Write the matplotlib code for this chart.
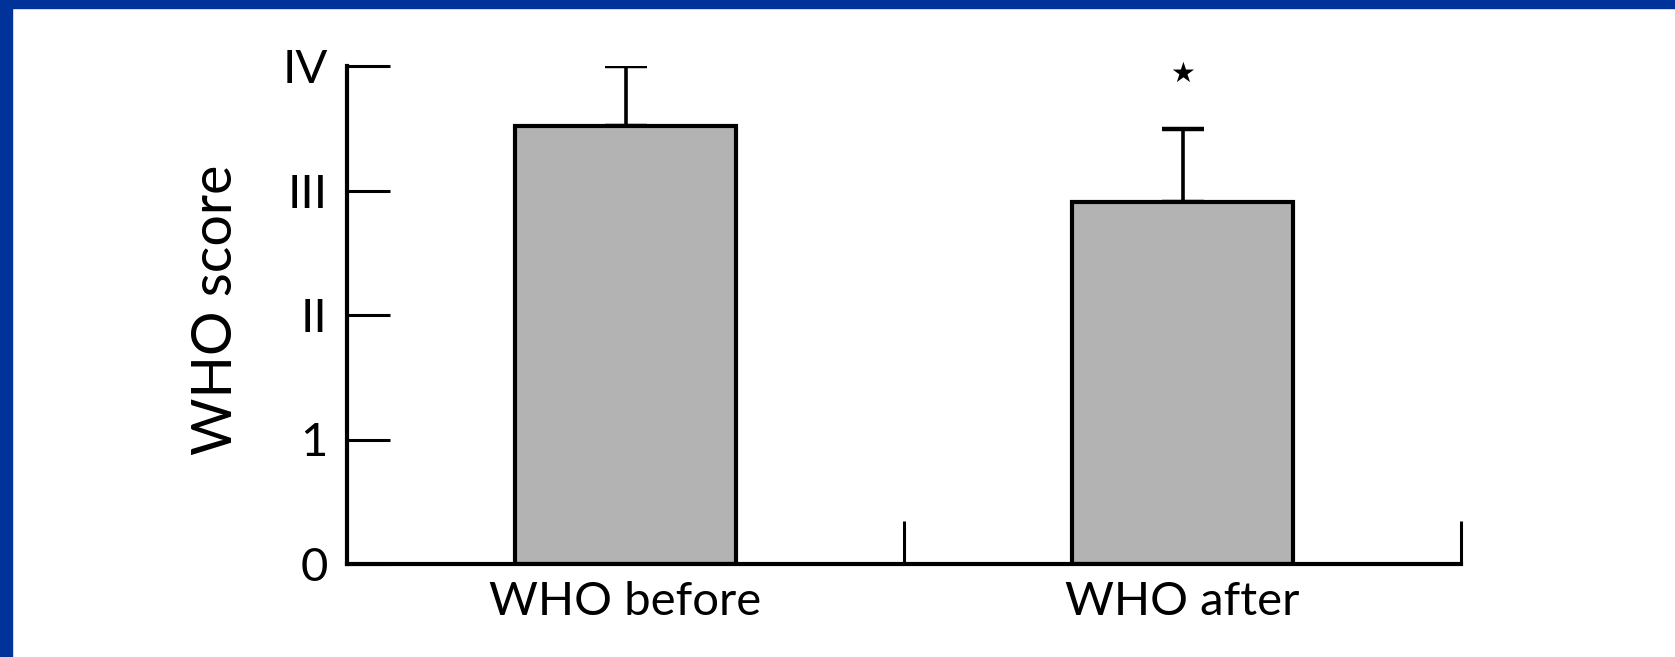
import matplotlib
matplotlib.use("Agg")
import matplotlib.pyplot as plt
from matplotlib.patches import Rectangle

# WHO functional class before and after treatment
categories = ["WHO before", "WHO after"]
means = [3.52, 2.91]
errors = [0.48, 0.58]
tick_values = [0, 1, 2, 3, 4]
tick_labels = ["0", "1", "II", "III", "IV"]
significance = ["", "\u2605"]

plt.rcParams["font.family"] = ["Lato", "DejaVu Sans"]

fig = plt.figure(figsize=(16.75, 6.57), dpi=100)
fig.patch.set_facecolor("white")

# blue frame along the left and top edges
border = "#003399"
fig.patches.append(Rectangle((0, 0), 12 / 1675, 1, transform=fig.transFigure,
                             color=border, zorder=0))
fig.patches.append(Rectangle((0, 1 - 8 / 657), 1, 8 / 657, transform=fig.transFigure,
                             color=border, zorder=0))

ax = fig.add_axes([347 / 1675, 1 - 564 / 657, 1114 / 1675, 498 / 657])

positions = [i + 0.5 for i in range(len(categories))]
ax.bar(positions, means, width=0.395, color="#b3b3b3", edgecolor="black",
       linewidth=3, zorder=2)
ax.errorbar(positions, means, yerr=[[0] * len(errors), errors], fmt="none",
            ecolor="black", elinewidth=2.6, capsize=15, capthick=3.2, zorder=1)

for x, m, e, s in zip(positions, means, errors, significance):
    if s:
        ax.text(x, 3.94, s, ha="center", va="center", fontsize=20,
                family=["DejaVu Sans"], fontweight="normal")

ax.set_xlim(0, len(categories))
ax.set_ylim(0, 4)

ax.set_yticks(tick_values)
ax.set_yticklabels(tick_labels, fontsize=34)
ax.tick_params(axis="y", direction="in", length=31, width=2.2, pad=14)

ax.set_xticks(positions)
ax.set_xticklabels(categories, fontsize=34)
ax.tick_params(axis="x", which="major", length=0, pad=12)
ax.set_xticks([1, 2], minor=True)
ax.tick_params(axis="x", which="minor", direction="in", length=31, width=2.2)

for side in ("top", "right"):
    ax.spines[side].set_visible(False)
for side in ("left", "bottom"):
    ax.spines[side].set_linewidth(3)

ax.set_ylabel("WHO score", fontsize=40)
ax.yaxis.set_label_coords(-0.094, 0.51)

fig.savefig("out.png", dpi=100, facecolor="white")
